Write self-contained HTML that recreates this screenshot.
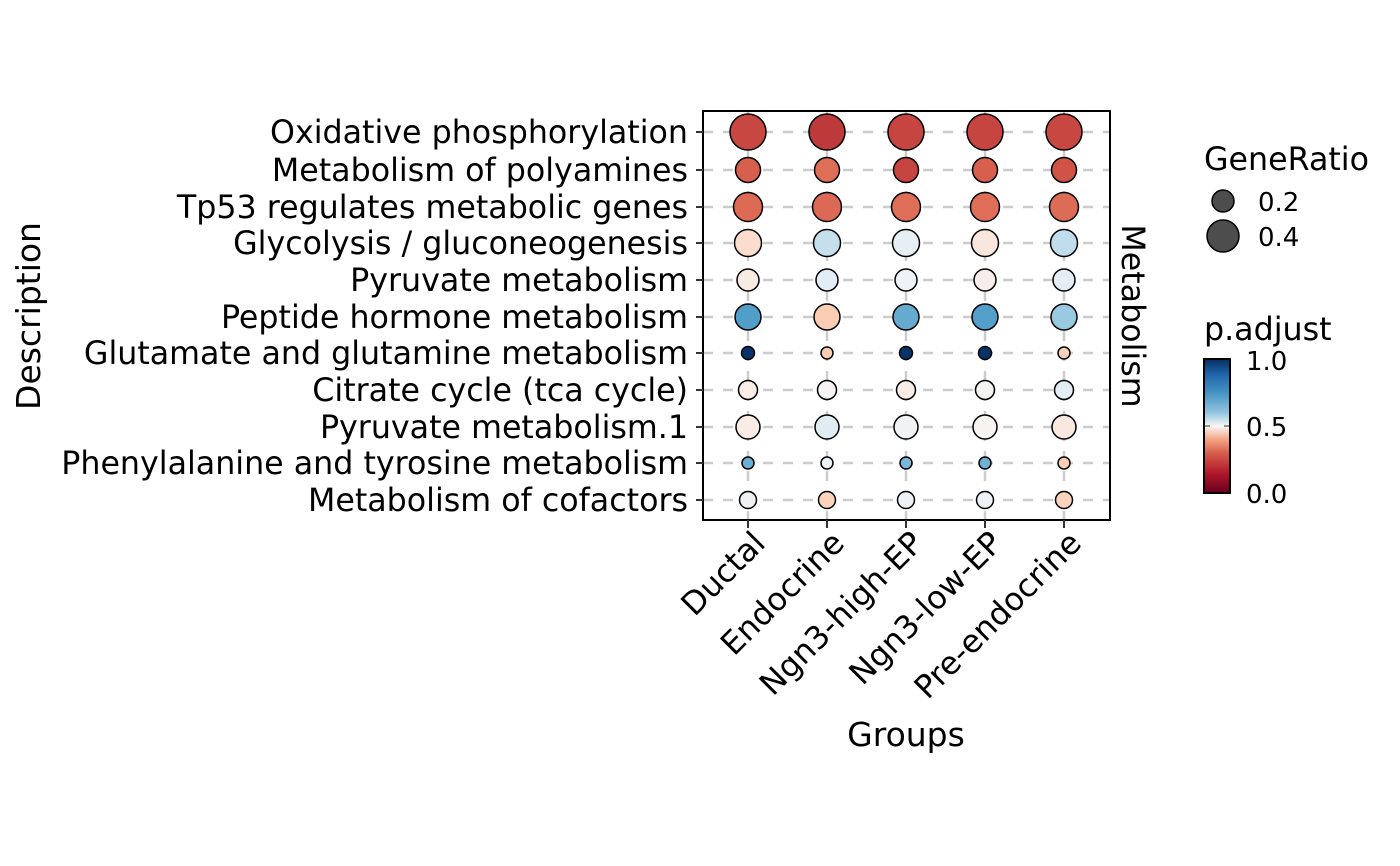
<!DOCTYPE html>
<html><head><meta charset="utf-8"><style>body{margin:0;background:#fff}svg{display:block}text{font-family:"DejaVu Sans","Liberation Sans",sans-serif;fill:#000}</style></head><body>
<svg width="1400" height="866" viewBox="0 0 1400 866" xmlns="http://www.w3.org/2000/svg">
<defs><linearGradient id="cb" x1="0" y1="1" x2="0" y2="0">
<stop offset="0" stop-color="#67001f"/><stop offset="0.15" stop-color="#b2182b"/><stop offset="0.3" stop-color="#d6604d"/><stop offset="0.4" stop-color="#f4a582"/><stop offset="0.5" stop-color="#f7f7f7"/><stop offset="0.6" stop-color="#92c5de"/><stop offset="0.75" stop-color="#4393c3"/><stop offset="0.88" stop-color="#2166ac"/><stop offset="1" stop-color="#053061"/></linearGradient></defs>
<rect x="703" y="111" width="407" height="409" fill="#fff"/>
<g stroke="#cccccc" stroke-width="2.5" stroke-dasharray="10,10">
<line x1="703" x2="1110" y1="132" y2="132"/><line x1="703" x2="1110" y1="170" y2="170"/><line x1="703" x2="1110" y1="207" y2="207"/><line x1="703" x2="1110" y1="243" y2="243"/><line x1="703" x2="1110" y1="280" y2="280"/><line x1="703" x2="1110" y1="317" y2="317"/><line x1="703" x2="1110" y1="353" y2="353"/><line x1="703" x2="1110" y1="390" y2="390"/><line x1="703" x2="1110" y1="427" y2="427"/><line x1="703" x2="1110" y1="463" y2="463"/><line x1="703" x2="1110" y1="500" y2="500"/>
<line x1="748" x2="748" y1="111" y2="520"/><line x1="827" x2="827" y1="111" y2="520"/><line x1="906" x2="906" y1="111" y2="520"/><line x1="985" x2="985" y1="111" y2="520"/><line x1="1064" x2="1064" y1="111" y2="520"/>
</g>
<g stroke="#000" stroke-width="1.5">
<circle cx="748" cy="132" r="18" fill="#c94741"/><circle cx="827" cy="132" r="18" fill="#be3a3a"/><circle cx="906" cy="132" r="18" fill="#c74541"/><circle cx="985" cy="132" r="18" fill="#c74541"/><circle cx="1064" cy="132" r="18" fill="#c94741"/>
<circle cx="748" cy="170" r="12.5" fill="#d65f4d"/><circle cx="827" cy="170" r="12.5" fill="#de6e58"/><circle cx="906" cy="170" r="12.5" fill="#c74541"/><circle cx="985" cy="170" r="12.5" fill="#d65f4d"/><circle cx="1064" cy="170" r="12.5" fill="#cf5347"/>
<circle cx="748" cy="207" r="14.5" fill="#dc6a55"/><circle cx="827" cy="207" r="14.5" fill="#db6955"/><circle cx="906" cy="207" r="14.5" fill="#de6e58"/><circle cx="985" cy="207" r="14.5" fill="#de6e58"/><circle cx="1064" cy="207" r="14.5" fill="#dd6c57"/>
<circle cx="748" cy="243" r="13.5" fill="#fcdccd"/><circle cx="827" cy="243" r="13.5" fill="#c6dfec"/><circle cx="906" cy="243" r="13.5" fill="#e6eff3"/><circle cx="985" cy="243" r="13.5" fill="#f9e6dc"/><circle cx="1064" cy="243" r="13.5" fill="#c1dcea"/>
<circle cx="748" cy="280" r="11" fill="#f8ebe3"/><circle cx="827" cy="280" r="11" fill="#e3edf3"/><circle cx="906" cy="280" r="11" fill="#eef3f5"/><circle cx="985" cy="280" r="11" fill="#f8eee9"/><circle cx="1064" cy="280" r="11" fill="#e4eef4"/>
<circle cx="748" cy="317" r="13" fill="#519ec9"/><circle cx="827" cy="317" r="13" fill="#fbcdb5"/><circle cx="906" cy="317" r="13" fill="#66aad0"/><circle cx="985" cy="317" r="13" fill="#549fc9"/><circle cx="1064" cy="317" r="13" fill="#9acae1"/>
<circle cx="748" cy="353" r="6.5" fill="#08336a"/><circle cx="827" cy="353" r="6" fill="#fbcdb5"/><circle cx="906" cy="353" r="6.5" fill="#08336a"/><circle cx="985" cy="353" r="6.5" fill="#08336a"/><circle cx="1064" cy="353" r="6" fill="#fbd3bd"/>
<circle cx="748" cy="390" r="9.5" fill="#f9ede6"/><circle cx="827" cy="390" r="9.5" fill="#f7f3f1"/><circle cx="906" cy="390" r="9.5" fill="#f8ece6"/><circle cx="985" cy="390" r="9.5" fill="#f5f3f2"/><circle cx="1064" cy="390" r="9.5" fill="#e3edf4"/>
<circle cx="748" cy="427" r="12" fill="#f9ece5"/><circle cx="827" cy="427" r="12" fill="#e0ecf1"/><circle cx="906" cy="427" r="12" fill="#f0f2f4"/><circle cx="985" cy="427" r="12" fill="#f7f3f1"/><circle cx="1064" cy="427" r="12" fill="#fae7dd"/>
<circle cx="748" cy="463" r="6" fill="#6aafd5"/><circle cx="827" cy="463" r="6" fill="#edf2f6"/><circle cx="906" cy="463" r="6" fill="#7ab7d9"/><circle cx="985" cy="463" r="6" fill="#70b2d6"/><circle cx="1064" cy="463" r="6" fill="#fbcfb6"/>
<circle cx="748" cy="500" r="8.5" fill="#edf2f5"/><circle cx="827" cy="500" r="8.5" fill="#fbd3bd"/><circle cx="906" cy="500" r="8.5" fill="#edf2f5"/><circle cx="985" cy="500" r="8.5" fill="#edf2f5"/><circle cx="1064" cy="500" r="8.5" fill="#fbd3bd"/>
</g>
<rect x="703" y="111" width="407" height="409" fill="none" stroke="#000" stroke-width="2"/>
<g stroke="#333" stroke-width="2">
<line x1="696" x2="703" y1="132" y2="132"/><line x1="696" x2="703" y1="170" y2="170"/><line x1="696" x2="703" y1="207" y2="207"/><line x1="696" x2="703" y1="243" y2="243"/><line x1="696" x2="703" y1="280" y2="280"/><line x1="696" x2="703" y1="317" y2="317"/><line x1="696" x2="703" y1="353" y2="353"/><line x1="696" x2="703" y1="390" y2="390"/><line x1="696" x2="703" y1="427" y2="427"/><line x1="696" x2="703" y1="463" y2="463"/><line x1="696" x2="703" y1="500" y2="500"/>
<line x1="748" x2="748" y1="520" y2="528"/><line x1="827" x2="827" y1="520" y2="528"/><line x1="906" x2="906" y1="520" y2="528"/><line x1="985" x2="985" y1="520" y2="528"/><line x1="1064" x2="1064" y1="520" y2="528"/>
</g>
<g font-size="31.7" text-anchor="end">
<text x="688" y="143">Oxidative phosphorylation</text>
<text x="688" y="181">Metabolism of polyamines</text>
<text x="688" y="218">Tp53 regulates metabolic genes</text>
<text x="688" y="254">Glycolysis / gluconeogenesis</text>
<text x="688" y="291">Pyruvate metabolism</text>
<text x="688" y="328">Peptide hormone metabolism</text>
<text x="688" y="364">Glutamate and glutamine metabolism</text>
<text x="688" y="401">Citrate cycle (tca cycle)</text>
<text x="688" y="438">Pyruvate metabolism.1</text>
<text x="688" y="474">Phenylalanine and tyrosine metabolism</text>
<text x="688" y="511">Metabolism of cofactors</text>
<text transform="translate(767,545) rotate(-45)">Ductal</text>
<text transform="translate(846,545) rotate(-45)">Endocrine</text>
<text transform="translate(925,545) rotate(-45)">Ngn3-high-EP</text>
<text transform="translate(1004,545) rotate(-45)">Ngn3-low-EP</text>
<text transform="translate(1083,545) rotate(-45)">Pre-endocrine</text>
</g>
<text x="906" y="746" font-size="33" text-anchor="middle">Groups</text>
<text transform="translate(40,316) rotate(-90)" font-size="33" text-anchor="middle">Description</text>
<text transform="translate(1122,316) rotate(90)" font-size="31.7" text-anchor="middle">Metabolism</text>
<text x="1204" y="170" font-size="31.7">GeneRatio</text>
<circle cx="1223" cy="201" r="11" fill="#4d4d4d" stroke="#000" stroke-width="1.5"/>
<circle cx="1223" cy="236" r="16" fill="#4d4d4d" stroke="#000" stroke-width="1.5"/>
<text x="1258" y="211" font-size="26">0.2</text>
<text x="1258" y="246" font-size="26">0.4</text>
<text x="1204" y="340" font-size="31.7">p.adjust</text>
<rect x="1204" y="359" width="26" height="134" fill="url(#cb)" stroke="#000" stroke-width="2"/>
<line x1="1205" x2="1210" y1="426" y2="426" stroke="#333"/><line x1="1224" x2="1229" y1="426" y2="426" stroke="#333"/>
<text x="1246" y="370" font-size="26">1.0</text>
<text x="1246" y="436" font-size="26">0.5</text>
<text x="1246" y="503" font-size="26">0.0</text>
</svg>
</body></html>
